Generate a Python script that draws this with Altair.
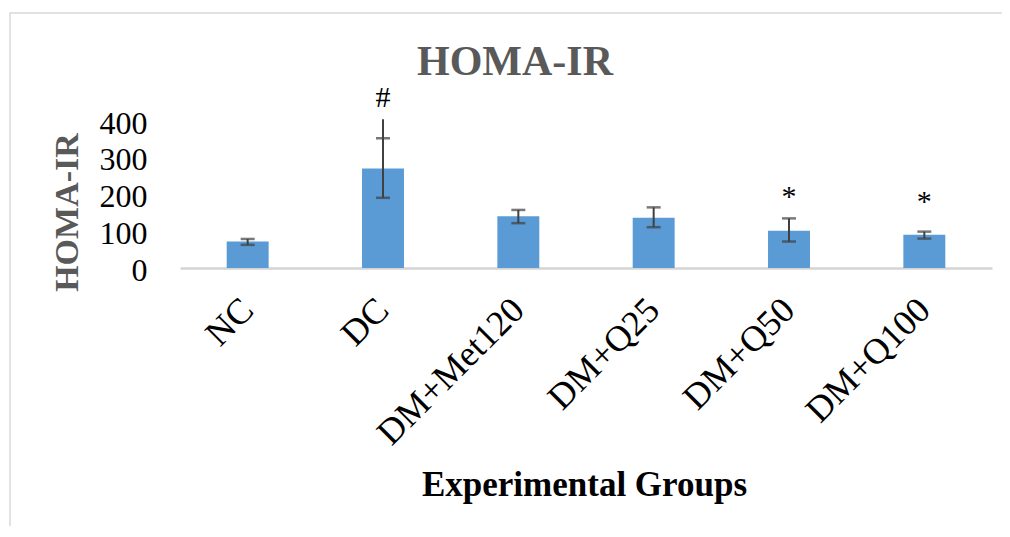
import altair as alt
import pandas as pd

groups = ["NC", "DC", "DM+Met120", "DM+Q25", "DM+Q50", "DM+Q100"]
means = [72, 271, 141, 137, 101.5, 90.6]
err_low = [63, 191, 122, 111, 72, 80]
err_high = [79, 353, 158, 165, 135, 99]
whisker_top = [79, 405, 158, 165, 135, 99]

sig_groups = ["DC", "DM+Q50", "DM+Q100"]
sig_labels = ["#", "*", "*"]
sig_y = [438, 169, 155]

y_ticks = [0, 100, 200, 300, 400]

df = pd.DataFrame({"group": groups, "mean": means, "lo": err_low,
                   "hi": err_high, "top": whisker_top})
sig = pd.DataFrame({"group": sig_groups, "label": sig_labels, "y": sig_y})

FONT = "Liberation Serif"
W, H = 812, 147

xscale = alt.Scale(domain=groups, paddingInner=0.69, paddingOuter=0.345)
yscale = alt.Scale(domain=[0, 400], nice=False, zero=True)

xaxis = alt.Axis(
    title="Experimental Groups", labelAngle=-45, labelAlign="right",
    labelBaseline="middle", labelFont=FONT, labelFontSize=36,
    labelColor="black", labelPadding=36, ticks=False, tickSize=0,
    domainColor="#d4d4d4", domainWidth=2.5, labelOverlap=False,
    labelLimit=0,
    titleFont=FONT, titleFontSize=35, titleFontWeight="bold",
    titleColor="black", titleX=W / 2 - 2, titleY=227,
    titleBaseline="alphabetic", titleAlign="center",
)
yaxis = alt.Axis(
    title="HOMA-IR", values=y_ticks, grid=False, domain=False,
    ticks=False, tickSize=0, labelFont=FONT, labelFontSize=32,
    labelColor="black", labelPadding=33, labelOverlap=False,
    labelFlush=False, labelBound=False, labelOffset=2,
    titleFont=FONT, titleFontSize=34, titleFontWeight="bold",
    titleColor="#595959", titleAngle=-90, titleX=-103, titleY=91,
    titleAlign="center", titleBaseline="alphabetic",
)


def X():
    return alt.X("group:N", scale=xscale, axis=xaxis, sort=groups)


def Y(field):
    return alt.Y(field, scale=yscale, axis=yaxis)


base = alt.Chart(df)

bars = base.mark_bar(color="#5b9bd5").encode(x=X(), y=Y("mean:Q"))

whisk = base.mark_rule(color="#404040", strokeWidth=2).encode(
    x=X(), y=Y("lo:Q"), y2="top:Q",
)
cap_lo = base.mark_tick(color="#404040", thickness=2.5, size=14).encode(
    x=X(), y=Y("lo:Q"),
)
cap_hi = base.mark_tick(color="#404040", thickness=2.5, size=14).encode(
    x=X(), y=Y("hi:Q"),
)

stars = alt.Chart(sig).mark_text(
    font=FONT, fontSize=30, baseline="alphabetic", color="black"
).encode(x=X(), y=Y("y:Q"), text="label:N")

frame = alt.Chart(pd.DataFrame({"a": [0]})).mark_rect(
    fillOpacity=0, stroke="#d9d9d9", strokeWidth=1.5
).encode(
    x=alt.value(-170), x2=alt.value(900),
    y=alt.value(-108), y2=alt.value(600),
)

chart = alt.layer(frame, bars, whisk, cap_lo, cap_hi, stars).properties(
    width=W, height=H,
    title=alt.TitleParams(
        "HOMA-IR", font=FONT, fontSize=42, fontWeight="bold",
        color="#595959", anchor="middle", frame="group", dx=-71,
        dy=151, baseline="alphabetic", offset=46,
    ),
    padding={"left": 172, "top": 113, "right": 10, "bottom": 258},
    autosize=alt.AutoSizeParams(type="none"),
).configure_view(stroke=None).configure_axis(labelOverlap=False)

chart.save("out.html", embed_options={"renderer": "svg", "actions": False})
